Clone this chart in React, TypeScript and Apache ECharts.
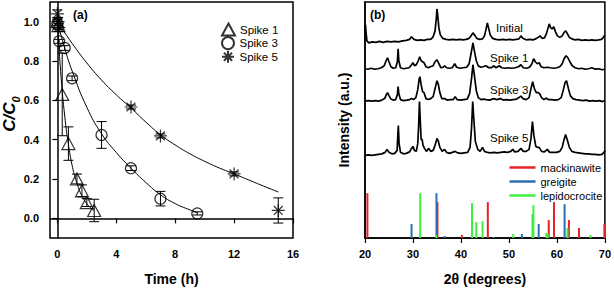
import React, { useEffect, useRef } from 'react';
import * as echarts from 'echarts';

const FONT = '"Liberation Sans", Arial, Helvetica, sans-serif';

// ---------- Panel (a): C/C0 vs time ----------
const spike1T = [0, 0.07, 0.33, 0.75, 1.33, 1.67, 2.0, 2.5];
const spike1C = [1.0, 0.98, 0.63, 0.38, 0.2, 0.14, 0.08, 0.04];
const spike1Err = [0.02, 0.02, 0.21, 0.085, 0.025, 0.03, 0.02, 0.057];

const spike3T = [0, 0.12, 0.5, 1.0, 3.0, 5.0, 7.0, 9.5];
const spike3C = [0.99, 0.9, 0.866, 0.712, 0.424, 0.255, 0.1, 0.025];
const spike3Err = [0.02, 0.01, 0.012, 0.012, 0.068, 0.012, 0.037, 0.008];

const spike5T = [0, 0.05, 0.1, 5.0, 7.0, 12.0, 15.0];
const spike5C = [1.04, 1.0, 0.97, 0.566, 0.419, 0.226, 0.04];
const spike5Err = [0.02, 0.02, 0.02, 0.01, 0.01, 0.01, 0.064];

const fit1T = [0, 0.25, 0.5, 0.75, 1, 1.25, 1.5, 1.75, 2, 2.25, 2.5];
const fit1C = [1, 0.72, 0.52, 0.377, 0.27, 0.197, 0.142, 0.103, 0.074, 0.054, 0.039];
const fit3T = [0, 0.5, 1, 2, 3, 4, 5, 6, 7, 8, 9, 9.5];
const fit3C = [1, 0.865, 0.75, 0.565, 0.43, 0.335, 0.255, 0.183, 0.12, 0.075, 0.043, 0.03];
const fit5T = [0, 1, 2, 3, 4, 5, 6, 7, 8, 9, 10, 11, 12, 13, 14, 15];
const fit5C = [1, 0.89, 0.79, 0.703, 0.628, 0.561, 0.49, 0.425, 0.373, 0.328, 0.29, 0.256, 0.226, 0.195, 0.164, 0.134];

const timeTicks = [0, 4, 8, 12, 16];
const ratioTicks = [0, 0.2, 0.4, 0.6, 0.8, 1.0];

const spikeNames = ['Spike 1', 'Spike 3', 'Spike 5'];
const phaseNames = ['mackinawite', 'greigite', 'lepidocrocite'];

// ---------- Panel (b): XRD patterns (2θ, intensity a.u.) ----------
const initialPattern = [
  [20.0, 205], [20.1, 214], [20.22, 206], [20.4, 198], [20.8, 196], [21.5, 197], [22.3, 196.5], [23, 197.5], [23.8, 196.5], [24.6, 197.5], [25.4, 197], [26.2, 197.5], [27, 197], [27.8, 198], [28.6, 198.5], [29.3, 199.5], [29.7, 202], [30.2, 199.5], [30.9, 198.5], [31.6, 199], [32.3, 198.5], [33, 199.5], [33.7, 199.5], [34.2, 202], [34.6, 208], [34.85, 220], [35.0, 230], [35.15, 224], [35.4, 211], [35.7, 204], [36.2, 200.5], [36.9, 199.5], [37.6, 199], [38.3, 199.5], [39, 199], [39.7, 199.5], [40.4, 199], [41.1, 199.5], [41.7, 200.5], [42.1, 203], [42.5, 206], [42.9, 203.5], [43.3, 200.5], [43.9, 199.5], [44.5, 200], [44.9, 203], [45.2, 209], [45.5, 216], [45.8, 210], [46.1, 204], [46.6, 200.5], [47.3, 199.5], [48, 199], [48.7, 199.5], [49.4, 199], [50.1, 199.5], [50.8, 199], [51.5, 199.5], [52.1, 200], [52.5, 203], [52.9, 200.5], [53.6, 199], [54.3, 199.5], [55, 199], [55.6, 200], [56.1, 201.5], [56.5, 203], [56.9, 200.5], [57.4, 201], [57.8, 205], [58.1, 210], [58.4, 215], [58.7, 211], [59.0, 210], [59.35, 212], [59.7, 207], [60.1, 203], [60.6, 201.5], [61.1, 203], [61.5, 206.5], [61.85, 208], [62.2, 205], [62.6, 201.5], [63.1, 200], [63.8, 199], [64.5, 199.5], [65.2, 198.5], [65.9, 199], [66.6, 198.5], [67.3, 199], [68, 198.5], [68.7, 199], [69.3, 199.5], [69.7, 201.5], [70, 204],
];
const spike1Pattern = [
  [20.0, 170], [20.6, 169.5], [21.3, 170.5], [22, 169.5], [22.7, 170], [23.4, 171], [24, 173], [24.4, 178], [24.7, 181], [25.0, 177], [25.4, 172], [25.9, 170.5], [26.4, 171], [26.75, 177], [26.9, 190], [27.05, 178], [27.4, 171], [28, 170], [28.6, 170.5], [29.2, 171], [29.7, 174], [30.0, 176], [30.3, 173], [30.7, 174], [31.1, 178], [31.4, 182], [31.7, 178], [32.0, 177], [32.3, 176], [32.7, 172], [33.2, 171], [33.6, 172], [34.2, 173], [34.6, 177], [35.0, 179], [35.4, 175], [35.8, 171], [36.3, 171.5], [36.6, 173], [37.0, 171], [37.6, 170.5], [38.2, 171], [38.7, 175], [39.1, 171.5], [39.8, 170.5], [40.5, 171], [41.2, 171.5], [41.7, 175], [42.1, 185], [42.5, 196], [42.8, 188], [43.2, 178], [43.6, 173], [44.1, 171.5], [44.6, 172], [45.2, 173], [45.8, 171], [46.4, 171], [46.8, 173], [47.3, 171], [48, 173], [48.5, 171], [49.2, 170.5], [49.9, 171], [50.6, 170.5], [51.3, 171], [52, 172], [52.5, 174], [53, 171], [53.7, 170.5], [54.3, 171.5], [54.8, 175], [55.15, 180], [55.5, 177], [55.9, 175], [56.3, 176], [56.7, 172], [57.3, 171], [58, 171.5], [58.6, 171], [59.3, 170.5], [60, 171], [60.6, 172], [61.1, 175], [61.5, 180], [61.9, 183], [62.3, 181], [62.7, 177], [63.2, 173], [63.8, 171], [64.5, 170], [65.2, 170.5], [65.9, 169.5], [66.6, 170], [67.3, 171], [68, 169.5], [68.7, 170], [69.4, 169], [70, 169.5],
];
const spike3Pattern = [
  [20.0, 137.5], [20.7, 138], [21.4, 137.5], [22.1, 138], [22.8, 137.5], [23.5, 138.5], [24.1, 140], [24.45, 144], [24.7, 146], [25.0, 143], [25.4, 139.5], [25.9, 138.5], [26.4, 139], [26.75, 144], [26.9, 152], [27.05, 145], [27.4, 139], [28, 138], [28.7, 138.5], [29.3, 139], [29.7, 140], [30.1, 139], [30.6, 141], [31.0, 149], [31.3, 160], [31.45, 162], [31.7, 154], [32.0, 147], [32.3, 146], [32.7, 140], [33.2, 139], [33.7, 140], [34.2, 142], [34.6, 150], [35.0, 158], [35.3, 154], [35.6, 146], [36.0, 140], [36.6, 140], [37.1, 138.5], [37.8, 139], [38.4, 139], [38.8, 142], [39.2, 139], [39.9, 138.5], [40.6, 139], [41.3, 139.5], [41.8, 145], [42.2, 160], [42.5, 174], [42.8, 163], [43.2, 148], [43.6, 141], [44.2, 139], [44.7, 139.5], [45.3, 139], [46, 138.5], [46.8, 140], [47.5, 139], [48.2, 140], [48.8, 138.5], [49.5, 139], [50.2, 138.5], [50.9, 139], [51.6, 139.5], [52.1, 141], [52.5, 142.5], [52.9, 140], [53.6, 139], [54.2, 141], [54.6, 150], [54.95, 157], [55.3, 150], [55.7, 146], [56.1, 146], [56.4, 145], [56.8, 141], [57.3, 139], [57.7, 140.5], [58.2, 139], [58.9, 139], [59.6, 138.5], [60.3, 139], [60.9, 141], [61.3, 148], [61.7, 156], [62.0, 158], [62.4, 150], [62.8, 143], [63.3, 140], [64, 139], [64.7, 138.5], [65.4, 138], [66.1, 138.5], [66.8, 137.5], [67.5, 138], [68.2, 137.5], [68.9, 138], [69.5, 137], [70, 138],
];
const spike5Pattern = [
  [20.0, 83], [20.7, 83.5], [21.4, 83], [22.1, 83.5], [22.8, 84], [23.5, 84.5], [24.2, 86], [24.6, 89], [25.0, 86], [25.6, 84.5], [26.2, 85], [26.7, 88], [26.85, 105], [26.95, 113], [27.1, 95], [27.4, 86], [28, 84.5], [28.6, 85], [29.3, 86.5], [29.7, 90], [30.0, 92], [30.3, 88], [30.7, 87], [31.0, 95], [31.2, 115], [31.35, 137], [31.5, 120], [31.7, 99], [31.9, 99], [32.1, 93], [32.4, 90], [32.8, 87], [33.3, 90], [33.7, 87], [34.2, 88], [34.6, 93], [35.0, 100], [35.3, 97], [35.6, 91], [36.1, 87], [36.6, 89], [37.0, 86], [37.6, 85], [38.2, 86], [38.8, 87], [39.3, 85.5], [40, 85], [40.7, 85.5], [41.4, 86], [41.9, 91], [42.2, 110], [42.45, 137], [42.7, 118], [43.0, 97], [43.5, 89], [44.0, 87], [44.5, 91], [44.9, 87], [45.5, 86], [46.2, 85.5], [46.9, 86], [47.6, 85.5], [48.3, 86], [49, 86.5], [49.7, 86], [50.4, 87], [50.8, 89], [51.2, 86.5], [51.9, 87], [52.5, 90], [53, 87], [53.6, 87], [54.2, 89], [54.6, 100], [54.9, 117], [55.2, 103], [55.6, 92], [56.0, 91], [56.3, 91], [56.8, 87], [57.4, 86.5], [58.0, 89], [58.5, 86], [59.2, 86], [59.9, 86], [60.6, 87], [61.1, 91], [61.5, 99], [61.8, 104], [62.2, 98], [62.6, 91], [63.1, 87], [63.8, 86], [64.5, 85.5], [65.2, 85], [65.9, 84.5], [66.6, 84.5], [67.3, 84], [68, 84], [68.7, 83.5], [69.4, 84], [69.8, 86], [70, 88],
];

// reference stick patterns (2θ, relative height)
const mackinawiteSticks = [[20.5, 45], [35.1, 36], [40.2, 3], [45.6, 36], [58.3, 18], [59.4, 36], [62.5, 18], [64.6, 10], [69.9, 14]];
const greigiteSticks = [[29.7, 14], [34.9, 45], [36.6, 2], [46.8, 1], [52.7, 4], [56.2, 14], [61.6, 34]];
const lepidocrociteSticks = [[31.5, 45], [34.85, 3], [42.3, 35], [43.2, 16], [44.5, 17], [50.9, 4], [54.9, 24], [55.1, 33], [57.8, 5], [58.1, 4], [62.2, 10], [67.0, 3]];

const RED = '#e8202a';
const BLUE = '#2a6fb5';
const GREEN = '#3ef03e';

const zip = (a: number[], b: number[]) => a.map((v, i) => [v, b[i]]);
const zip3 = (a: number[], b: number[], c: number[]) => a.map((v, i) => [v, b[i], c[i]]);

const STAR = 'path://M5,0L5,10M0,5L10,5M1.6,1.6L8.4,8.4M8.4,1.6L1.6,8.4';

function stickSeries(name: string, data: number[][], color: string) {
  return {
    name,
    type: 'custom',
    xAxisIndex: 1,
    yAxisIndex: 1,
    itemStyle: { color },
    data,
    renderItem: (_p: any, api: any) => {
      const x = api.value(0);
      const h = api.value(1);
      const a = api.coord([x, 0]);
      const b = api.coord([x, h]);
      return {
        type: 'line',
        shape: { x1: a[0], y1: a[1], x2: b[0], y2: b[1] },
        style: { stroke: color, lineWidth: 2 },
      };
    },
  };
}

function patternSeries(name: string, data: number[][]) {
  return {
    name,
    type: 'line',
    xAxisIndex: 1,
    yAxisIndex: 1,
    data,
    symbol: 'none',
    lineStyle: { color: '#000', width: 1.7 },
    silent: true,
  };
}

function fitSeries(name: string, t: number[], c: number[]) {
  return {
    name,
    type: 'line',
    xAxisIndex: 0,
    yAxisIndex: 0,
    data: zip(t, c),
    symbol: 'none',
    smooth: true,
    lineStyle: { color: '#000', width: 1 },
  };
}

const markerStyle = { color: 'rgba(0,0,0,0)', borderColor: '#000', borderWidth: 1.2 };

const tickLabel = { fontFamily: FONT, fontWeight: 'bold', fontSize: 11, color: '#000' };
const axisNameStyle = { fontFamily: FONT, fontWeight: 'bold', fontSize: 14, color: '#000' };

function buildOption() {
  const errData = [
    ...zip3(spike1T, spike1C, spike1Err),
    ...zip3(spike3T, spike3C, spike3Err),
    ...zip3(spike5T, spike5C, spike5Err),
  ];
  const spikeLegends = spikeNames.map((n, i) => ({
    data: [n],
    orient: 'vertical', left: 221, top: 22.5 + i * 13.6, padding: 0,
    itemWidth: 13, itemHeight: 12,
    textStyle: { fontFamily: FONT, fontSize: 11.5, color: '#000' },
    selectedMode: false,
  }));
  const phaseLegends = phaseNames.map((n, i) => ({
    data: [{ name: n, icon: 'rect' }],
    orient: 'vertical', left: 509.5, top: 162 + i * 14, padding: 0,
    itemWidth: 26, itemHeight: 2.5,
    textStyle: { fontFamily: FONT, fontSize: 11, color: '#000' },
    selectedMode: false,
  }));
  return {
    animation: false,
    backgroundColor: '#fff',
    grid: [
      { left: 50, top: 2, width: 243, height: 237, show: true, borderColor: '#000', borderWidth: 1.5, backgroundColor: 'transparent' },
      { left: 365, top: 2, width: 241, height: 237, show: true, borderColor: '#000', borderWidth: 1.5, backgroundColor: 'transparent' },
    ],
    xAxis: [
      {
        type: 'value', gridIndex: 0, min: -0.5, max: 16,
        axisLine: { lineStyle: { color: '#000', width: 1.5 } },
        axisTick: { show: true, customValues: timeTicks, length: 5, lineStyle: { color: '#000', width: 1.2 } },
        axisLabel: { customValues: timeTicks, margin: 10, ...tickLabel },
        splitLine: { show: false },
        name: 'Time (h)', nameLocation: 'middle', nameGap: 34, nameTextStyle: axisNameStyle,
      },
      {
        type: 'value', gridIndex: 1, min: 20, max: 70, interval: 10,
        axisLine: { lineStyle: { color: '#000', width: 1.5 } },
        axisTick: { show: true, length: 5, lineStyle: { color: '#000', width: 1.2 } },
        axisLabel: { margin: 10, ...tickLabel },
        splitLine: { show: false },
        name: '2θ (degrees)', nameLocation: 'middle', nameGap: 34, nameTextStyle: axisNameStyle,
      },
    ],
    yAxis: [
      {
        type: 'value', gridIndex: 0, min: -0.1, max: 1.1,
        axisLine: { show: true, lineStyle: { color: '#000', width: 1.5 } },
        axisTick: { show: true, customValues: ratioTicks, length: 5, lineStyle: { color: '#000', width: 1.2 } },
        axisLabel: { customValues: ratioTicks, margin: 11, formatter: (v: number) => v.toFixed(1), ...tickLabel },
        splitLine: { show: false },
      },
      {
        type: 'value', gridIndex: 1, min: 0, max: 237,
        axisLine: { show: true, lineStyle: { color: '#000', width: 1.5 } },
        axisTick: { show: false },
        axisLabel: { show: false },
        splitLine: { show: false },
        name: 'Intensity (a.u.)', nameLocation: 'middle', nameGap: 14, nameTextStyle: axisNameStyle,
      },
    ],
    legend: [...spikeLegends, ...phaseLegends],
    graphic: [
      { type: 'text', left: 73, top: 9, style: { text: '(a)', fontFamily: FONT, fontWeight: 'bold', fontSize: 12, fill: '#000' } },
      { type: 'text', left: 370, top: 9, style: { text: '(b)', fontFamily: FONT, fontWeight: 'bold', fontSize: 12, fill: '#000' } },
      { type: 'text', x: 496, y: 27.5, style: { text: 'Initial', fontFamily: FONT, fontSize: 11.5, fill: '#000', verticalAlign: 'middle' } },
      { type: 'text', x: 490, y: 57.5, style: { text: 'Spike 1', fontFamily: FONT, fontSize: 11.5, fill: '#000', verticalAlign: 'middle' } },
      { type: 'text', x: 490, y: 90, style: { text: 'Spike 3', fontFamily: FONT, fontSize: 11.5, fill: '#000', verticalAlign: 'middle' } },
      { type: 'text', x: 490, y: 137.5, style: { text: 'Spike 5', fontFamily: FONT, fontSize: 11.5, fill: '#000', verticalAlign: 'middle' } },
      {
        type: 'text', x: 11, y: 114, rotation: Math.PI / 2,
        style: {
          text: '{a|C/C}{b|0}', align: 'center', verticalAlign: 'middle', fill: '#000',
          rich: {
            a: { fontFamily: FONT, fontWeight: 'bold', fontStyle: 'italic', fontSize: 17, fill: '#000', verticalAlign: 'bottom', padding: [0, 0, 4, 0] },
            b: { fontFamily: FONT, fontWeight: 'bold', fontStyle: 'italic', fontSize: 11, fill: '#000', verticalAlign: 'bottom' },
          },
        },
      },
    ],
    series: [
      fitSeries('fit1', fit1T, fit1C),
      fitSeries('fit3', fit3T, fit3C),
      fitSeries('fit5', fit5T, fit5C),
      {
        name: 'errors', type: 'custom', xAxisIndex: 0, yAxisIndex: 0, data: errData,
        renderItem: (_p: any, api: any) => {
          const x = api.value(0), y = api.value(1), e = api.value(2);
          const t = api.coord([x, y + e]);
          const b = api.coord([x, y - e]);
          const cw = 5;
          const st = { stroke: '#000', lineWidth: 1 };
          return {
            type: 'group',
            children: [
              { type: 'line', shape: { x1: t[0], y1: t[1], x2: b[0], y2: b[1] }, style: st },
              { type: 'line', shape: { x1: t[0] - cw, y1: t[1], x2: t[0] + cw, y2: t[1] }, style: st },
              { type: 'line', shape: { x1: b[0] - cw, y1: b[1], x2: b[0] + cw, y2: b[1] }, style: st },
            ],
          };
        },
      },
      { name: 'Spike 1', type: 'scatter', xAxisIndex: 0, yAxisIndex: 0, data: zip(spike1T, spike1C), symbol: 'triangle', symbolSize: [13, 12], itemStyle: markerStyle },
      { name: 'Spike 3', type: 'scatter', xAxisIndex: 0, yAxisIndex: 0, data: zip(spike3T, spike3C), symbol: 'circle', symbolSize: 11, itemStyle: markerStyle },
      { name: 'Spike 5', type: 'scatter', xAxisIndex: 0, yAxisIndex: 0, data: zip(spike5T, spike5C), symbol: STAR, symbolSize: 13, itemStyle: markerStyle },
      patternSeries('Initial', initialPattern),
      patternSeries('Spike 1 XRD', spike1Pattern),
      patternSeries('Spike 3 XRD', spike3Pattern),
      patternSeries('Spike 5 XRD', spike5Pattern),
      stickSeries('mackinawite', mackinawiteSticks, RED),
      stickSeries('greigite', greigiteSticks, BLUE),
      stickSeries('lepidocrocite', lepidocrociteSticks, GREEN),
    ],
  };
}

export default function App() {
  const ref = useRef<HTMLDivElement>(null);
  useEffect(() => {
    if (!ref.current) return;
    const chart = echarts.init(ref.current, null, { renderer: 'svg' });
    chart.setOption(buildOption() as any);
    return () => chart.dispose();
  }, []);
  return (
    <div
      ref={ref}
      style={{ position: 'fixed', left: 0, top: 0, width: 614, height: 291, background: '#fff' }}
    />
  );
}
